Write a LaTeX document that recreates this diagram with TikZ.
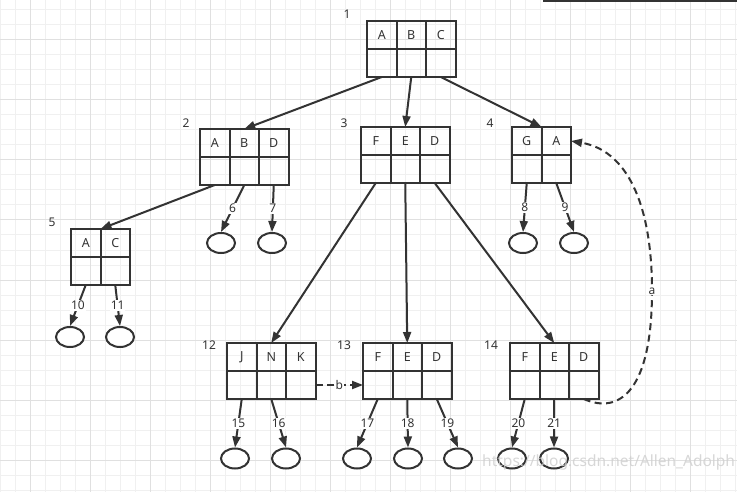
\documentclass[tikz,border=0pt]{standalone}
\usepackage{fontspec}
\setmainfont{Noto Sans}
\usetikzlibrary{arrows.meta,shapes.geometric}
\definecolor{ink}{HTML}{333333}
\definecolor{gmin}{HTML}{F0F0F0}
\definecolor{gmaj}{HTML}{E0E0E0}
\definecolor{wmark}{HTML}{D0D0D0}
\newcommand\mktable[4]{%
  \foreach \lbl [count=\i] in {#4} {
    \node[cell] (#1t\i) at ({#2+29.5*\i-14.75},{#3+14}) {\lbl};
    \node[cell] (#1b\i) at ({#2+29.5*\i-14.75},{#3+42}) {};
  }}
\tikzset{
  cell/.style={draw=ink, line width=2pt, minimum width=29.5pt, minimum height=28pt,
    inner sep=0pt, outer sep=0pt, text=ink, font=\fontsize{12.5}{12.5}\selectfont},
  leaf/.style={ellipse, draw=ink, line width=2pt, minimum width=28pt, minimum height=20pt,
    inner sep=0pt, fill=white},
  idx/.style={text=ink, inner sep=0pt, font=\fontsize{12}{12}\selectfont},
  conn/.style={draw=ink, line width=2pt, -{Triangle[length=11pt,width=8pt]}},
  dconn/.style={conn, dash pattern=on 7pt off 4.5pt},
  elab/.style={fill=white, inner sep=1pt, text=ink, font=\fontsize{12}{12}\selectfont},
}
\begin{document}
\begin{tikzpicture}[x=1pt,y=-1pt]
\useasboundingbox (0,0) rectangle (737,492);
\fill[white] (0,0) rectangle (737,492);
% grid
\foreach \gx in {0,15,...,735} \draw[gmin,line width=1pt] (\gx,0) -- (\gx,492);
\foreach \gy in {10,25,...,490} \draw[gmin,line width=1pt] (0,\gy) -- (737,\gy);
\foreach \gx in {30,90,...,690} \draw[gmaj,line width=1pt] (\gx,0) -- (\gx,492);
\foreach \gy in {40,100,...,460} \draw[gmaj,line width=1pt] (0,\gy) -- (737,\gy);
\fill[ink] (543,0) rectangle (737,2.2);
% tables
\mktable{n1}{367}{21}{A,B,C}
\mktable{n2}{200}{129}{A,B,D}
\mktable{n3}{361}{127}{F,E,D}
\mktable{n4}{512}{127}{G,A}
\mktable{n5}{71}{229}{A,C}
\mktable{n12}{227}{343}{J,N,K}
\mktable{n13}{363}{343}{F,E,D}
\mktable{n14}{510}{343}{F,E,D}
% index labels
\node[idx] (l1) at (347,14) {1};
\node[idx] (l2) at (186,123) {2};
\node[idx] (l3) at (344,123) {3};
\node[idx] (l4) at (490,123) {4};
\node[idx] (l5) at (52,222) {5};
\node[idx] (l12) at (209,345) {12};
\node[idx] (l13) at (344,345) {13};
\node[idx] (l14) at (491,345) {14};
% leaves
\node[leaf] (e6) at (221,243) {};
\node[leaf] (e7) at (272,243) {};
\node[leaf] (e8) at (523,243) {};
\node[leaf] (e9) at (574,243) {};
\node[leaf] (e10) at (70,337) {};
\node[leaf] (e11) at (120,337) {};
\node[leaf] (e15) at (235,458.5) {};
\node[leaf] (e16) at (286,458.5) {};
\node[leaf] (e17) at (357,458.5) {};
\node[leaf] (e18) at (408,458.5) {};
\node[leaf] (e19) at (458,458.5) {};
\node[leaf] (e20) at (512,458.5) {};
\node[leaf] (e21) at (554,458.5) {};
% connectors
\draw[conn] (n1b1.south) -- (n2t2.north);
\draw[conn] (n1b2.south) -- (n3t2.north);
\draw[conn] (n1b3.south) -- (n4t1.north east);
\draw[conn] (n2b1.south) -- (n5t1.north east);
\draw[conn] (n2b2.south) -- node[elab]{6} (e6.north);
\draw[conn] (n2b3.south) -- node[elab]{7} (e7.north);
\draw[conn] (n4b1.south) -- node[elab]{8} (e8.north);
\draw[conn] (n4b2.south) -- node[elab]{9} (e9.north);
\draw[conn] (n5b1.south) -- node[elab]{10} (e10.north);
\draw[conn] (n5b2.south) -- node[elab]{11} (e11.north);
\draw[conn] (n3b1.south) -- (n12t2.north);
\draw[conn] (n3b2.south) -- (n13t2.north);
\draw[conn] (n3b3.south) -- (n14t2.north);
\draw[conn] (n12b1.south) -- node[elab]{15} (e15.north);
\draw[conn] (n12b2.south) -- node[elab]{16} (e16.north);
\draw[conn] (n13b1.south) -- node[elab]{17} (e17.north);
\draw[conn] (n13b2.south) -- node[elab]{18} (e18.north);
\draw[conn] (n13b3.south) -- node[elab]{19} (e19.north);
\draw[conn] (n14b1.south) -- node[elab]{20} (e20.north);
\draw[conn] (n14b2.south) -- node[elab]{21} (e21.north);
\draw[dconn] (n12b3.east) -- node[elab]{b} (n13b1.west);
\draw[dconn] (n14b3.south) .. controls (620,415) and (652,390) .. (652,291)
  node[elab]{a} .. controls (652,200) and (625,150) .. (n4t2.east);
% watermark
\node[anchor=west, text=wmark, inner sep=0pt, opacity=0.85, font=\fontsize{15.5}{15.5}\selectfont] (wmk) at (482,462) {https://blog.csdn.net/Allen\_Adolph};
\end{tikzpicture}
\end{document}
